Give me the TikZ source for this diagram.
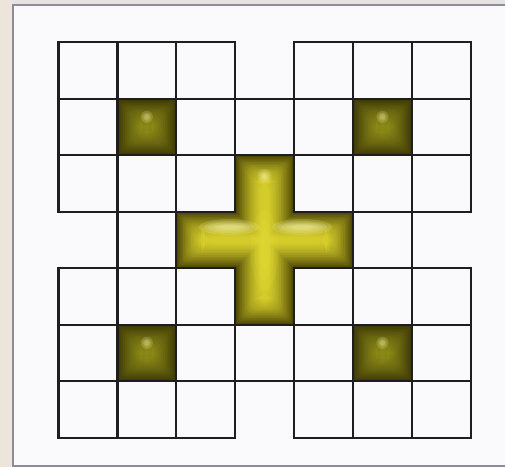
\documentclass[tikz,border=0pt]{standalone}
\definecolor{bgbeige}{HTML}{EDE5DA}
\definecolor{bgtop}{HTML}{E6E2E2}
\definecolor{panelfill}{HTML}{FAFAFD}
\definecolor{panelline}{HTML}{8C8C9C}
\definecolor{gridline}{HTML}{1E1E1E}
\definecolor{olivedark}{HTML}{3E3A06}
\definecolor{olivemid}{HTML}{8A8816}
\definecolor{crossedge}{HTML}{4C4606}
\definecolor{crosscore}{HTML}{D4CC2A}
\begin{document}
\begin{tikzpicture}[x=1pt,y=-1pt,
  cell/.style={draw=gridline, line width=2.2pt},
  glow/.style={fill=yellow!30!white, opacity=0.18}]
\def\cw{58.9}\def\ch{56.5}\def\gx{58.5}\def\gy{42.3}
\useasboundingbox (0,0) rectangle (505,467);
% background and panel
\fill[bgbeige] (0,0) rectangle (505,467);
\fill[bgtop] (13,0) rectangle (505,5);
\fill[panelfill] (13,5) rectangle (506,466);
\draw[panelline, line width=1.6pt] (506,5) -- (13,5) -- (13,466) -- (506,466);
% cross with inner glow
\fill[crossedge]
    (\gx+3*\cw, \gy+2*\ch) rectangle (\gx+4*\cw, \gy+5*\ch)
    (\gx+2*\cw, \gy+3*\ch) rectangle (\gx+5*\cw, \gy+4*\ch);
\foreach \k in {1,...,16}{
  \pgfmathsetmacro\d{\k*1.65}
  \pgfmathsetmacro\rc{\k*0.9}
  \pgfmathtruncatemacro\p{100*(1-\k/16)^1.5}
  \fill[crossedge!\p!crosscore, rounded corners=\rc pt]
    (\gx+3*\cw+\d, \gy+2*\ch+\d) rectangle (\gx+4*\cw-\d, \gy+5*\ch-\d)
    (\gx+2*\cw+\d, \gy+3*\ch+\d) rectangle (\gx+5*\cw-\d, \gy+4*\ch-\d);
}
% dark squares
\foreach \c/\r in {1/1,5/1,1/5,5/5}{
  \fill[olivedark] (\gx+\c*\cw, \gy+\r*\ch) rectangle ++(\cw,\ch);
  \foreach \k in {1,...,12}{
    \pgfmathsetmacro\d{\k*1.9}
    \pgfmathsetmacro\rc{\k*1.2}
    \pgfmathtruncatemacro\p{100*(1-\k/12)^1.2}
    \fill[olivedark!\p!olivemid, rounded corners=\rc pt]
      (\gx+\c*\cw+\d, \gy+\r*\ch+\d) rectangle (\gx+\c*\cw+\cw-\d, \gy+\r*\ch+\ch-\d);
  }
  \foreach \s in {6,4,2.5}{
    \fill[glow] (\gx+\c*\cw+0.5*\cw, \gy+\r*\ch+18) circle (\s);
  }
}
% highlights on the cross
\foreach \a/\b in {30/8,25/6,21/4.5,16/3,11/2}{
  \fill[glow] (229,227) ellipse (\a pt and \b pt);
  \fill[glow] (302,227) ellipse (\a pt and \b pt);
}
\foreach \s in {7,5,3.5,2}{
  \fill[glow] (264.5,176) circle (\s);
}
\foreach \a/\b in {14/40,10/30,6/20}{
  \fill[yellow!70!white, opacity=0.08] (264.5,250) ellipse (\a pt and \b pt);
}
% grid cells
\foreach \r in {0,1,2,4,5,6}{
  \foreach \c in {0,1,2,4,5,6}{
    \draw[cell] (\gx+\c*\cw, \gy+\r*\ch) rectangle ++(\cw,\ch);
  }
}
\foreach \c/\r in {3/1,3/5,1/3,5/3}{
  \draw[cell] (\gx+\c*\cw, \gy+\r*\ch) rectangle ++(\cw,\ch);
}
\end{tikzpicture}
\end{document}
